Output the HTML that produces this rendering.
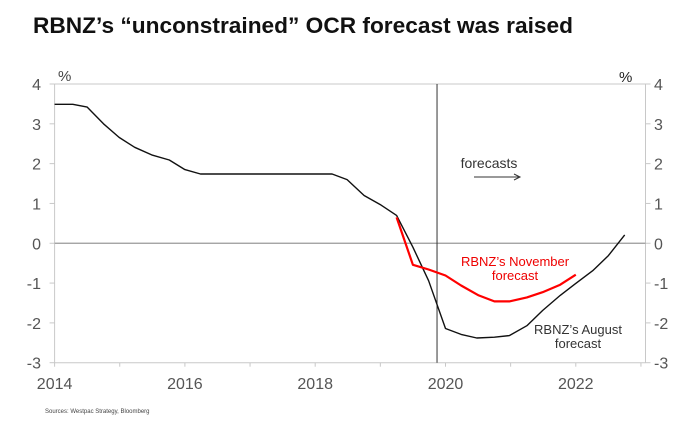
<!DOCTYPE html>
<html><head><meta charset="utf-8"><style>
html,body{margin:0;padding:0;background:#fff;}
svg{display:block;font-family:"Liberation Sans",Arial,sans-serif;}
</style></head><body>
<svg id="chart" width="692" height="423" viewBox="0 0 692 423" xmlns="http://www.w3.org/2000/svg">
<text x="33" y="33" font-size="22" font-weight="bold" fill="#111" textLength="540" lengthAdjust="spacingAndGlyphs">RBNZ’s “unconstrained” OCR forecast was raised</text>
<g id="axes"></g>
<g id="series"></g>
<text x="58" y="81" font-size="15" fill="#444">%</text>
<text x="619" y="82" font-size="15" fill="#222">%</text>
<text x="489" y="168" font-size="14" fill="#333" text-anchor="middle">forecasts</text>
<line x1="474" y1="177" x2="519" y2="177" stroke="#333" stroke-width="1"/>
<polyline points="514,174 520,177 514,180" fill="none" stroke="#333" stroke-width="1"/>
<text x="515" y="266" font-size="13" fill="#e00" text-anchor="middle">RBNZ’s November</text>
<text x="515" y="280" font-size="13" fill="#e00" text-anchor="middle">forecast</text>
<text x="578" y="334" font-size="13" fill="#333" text-anchor="middle">RBNZ’s August</text>
<text x="578" y="348" font-size="13" fill="#333" text-anchor="middle">forecast</text>
<text x="45" y="413" font-size="6" fill="#444">Sources: Westpac Strategy, Bloomberg</text>
</svg>
<script>
const yTicks = [4, 3, 2, 1, 0, -1, -2, -3];
const xTickLabels = [2014, 2016, 2018, 2020, 2022];
const augustYears = [2014, 2014.28, 2014.5, 2014.75, 2014.99, 2015.23, 2015.49, 2015.76, 2016.0, 2016.24, 2018.26, 2018.49, 2018.75, 2019.0, 2019.25, 2019.5, 2019.74, 2020.0, 2020.24, 2020.48, 2020.75, 2020.98, 2021.25, 2021.49, 2021.76, 2021.99, 2022.26, 2022.5, 2022.75];
const augustValues = [3.49, 3.49, 3.42, 3.0, 2.66, 2.41, 2.22, 2.09, 1.85, 1.74, 1.74, 1.6, 1.2, 0.97, 0.7, -0.1, -0.94, -2.14, -2.29, -2.38, -2.36, -2.32, -2.07, -1.69, -1.31, -1.02, -0.69, -0.31, 0.21];
const novemberYears = [2019.25, 2019.5, 2019.74, 2020.0, 2020.24, 2020.51, 2020.75, 2020.98, 2021.25, 2021.49, 2021.76, 2022.0];
const novemberValues = [0.65, -0.54, -0.66, -0.81, -1.06, -1.31, -1.46, -1.46, -1.36, -1.23, -1.04, -0.79];
const forecastStart = 2019.87;

const NS = 'http://www.w3.org/2000/svg';
const L = 54.6, R = 645.5, T = 84, B = 362.7;
const xMin = 2014, xMax = 2023.07, yMin = -3, yMax = 4;
const sx = v => L + (v - xMin) / (xMax - xMin) * (R - L);
const sy = v => B - (v - yMin) / (yMax - yMin) * (B - T);
function mk(tag, attrs, parent, text) {
  const e = document.createElementNS(NS, tag);
  for (const k in attrs) e.setAttribute(k, attrs[k]);
  if (text !== undefined) e.textContent = text;
  parent.appendChild(e);
  return e;
}
const ax = document.getElementById('axes');
const gs = document.getElementById('series');
let e;
e = mk('line', {x1: L, y1: T, x2: R, y2: T, stroke: '#c8c8c8', 'stroke-width': 1}, ax);


e = mk('line', {x1: L, y1: T, x2: L, y2: B, stroke: '#c8c8c8', 'stroke-width': 1}, ax);


e = mk('line', {x1: R, y1: T, x2: R, y2: B, stroke: '#c8c8c8', 'stroke-width': 1}, ax);


e = mk('line', {x1: L, y1: B, x2: R, y2: B, stroke: '#c8c8c8', 'stroke-width': 1}, ax);


e = mk('line', {x1: L, y1: sy(0), x2: R, y2: sy(0), stroke: '#999', 'stroke-width': 1.3}, ax);


yTicks.forEach(t => {
  const y = sy(t);
  e = mk('line', {x1: L - 5, y1: y, x2: L, y2: y, stroke: '#c8c8c8'}, ax);
  
  
  e = mk('line', {x1: R, y1: y, x2: R + 5, y2: y, stroke: '#c8c8c8'}, ax);
  
  
  e = mk('text', {x: 41, y: y + 6, 'font-size': 16, fill: '#555', 'text-anchor': 'end'}, ax, String(t));
  
  
  e = mk('text', {x: 654, y: y + 6, 'font-size': 16, fill: '#555'}, ax, String(t));
  
  
});
for (let yr = 2014; yr <= 2023; yr++) {
  e = mk('line', {x1: sx(yr), y1: B, x2: sx(yr), y2: B + 4, stroke: '#c8c8c8'}, ax);
  
  
}
xTickLabels.forEach(t => {
  e = mk('text', {x: sx(t), y: 389, 'font-size': 16, fill: '#555', 'text-anchor': 'middle'}, ax, String(t));
  
  
});
e = mk('line', {x1: sx(forecastStart), y1: T, x2: sx(forecastStart), y2: B, stroke: '#333', 'stroke-width': 1}, ax);


const pts = (xs, ys) => xs.map((x, i) => sx(x).toFixed(1) + ',' + sy(ys[i]).toFixed(1)).join(' ');
e = mk('polyline', {points: pts(augustYears, augustValues), fill: 'none', stroke: '#111', 'stroke-width': 1.4, 'stroke-linejoin': 'round'}, gs);


e = mk('polyline', {points: pts(novemberYears, novemberValues), fill: 'none', stroke: '#f00', 'stroke-width': 2.2, 'stroke-linejoin': 'round'}, gs);


</script>
</body></html>
